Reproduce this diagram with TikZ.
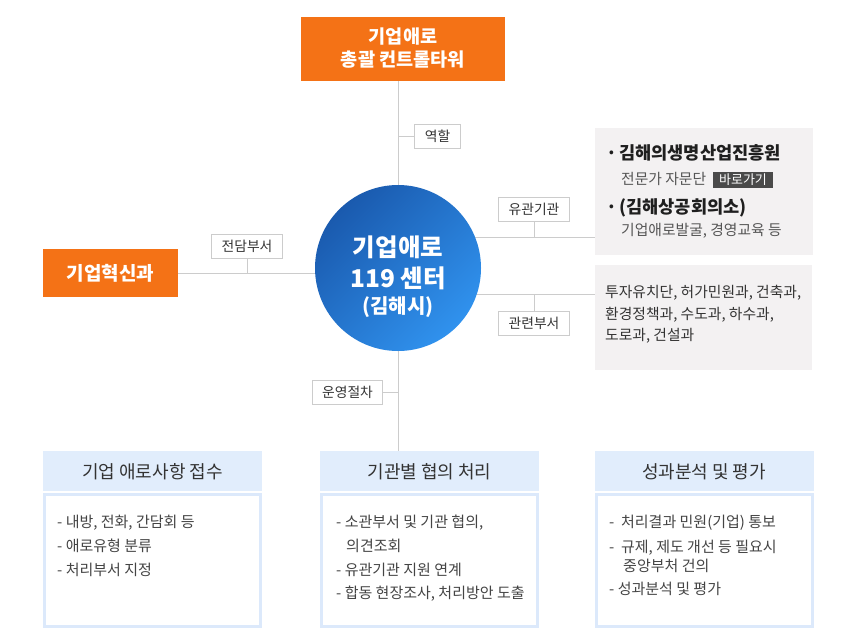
\documentclass[tikz,border=0pt]{standalone}
\usepackage{fontspec}
\setmainfont{Noto Sans CJK KR}
\usetikzlibrary{backgrounds}
\definecolor{orng}{HTML}{F47216}
\definecolor{bdark}{HTML}{1A5AAE}
\definecolor{blight}{HTML}{3092EE}
\definecolor{lnc}{HTML}{CCCCCC}
\definecolor{gbox}{HTML}{F3F1F2}
\definecolor{hblue}{HTML}{E1EDFC}
\definecolor{bblue}{HTML}{DCE9FB}
\definecolor{txd}{HTML}{333333}
\definecolor{txb}{HTML}{444444}
\definecolor{txg}{HTML}{555555}
\definecolor{btn}{HTML}{4A4A4A}
\tikzset{
  fs/.style={font=\fontsize{#1}{#1}\selectfont},
  fsb/.style={font=\fontsize{#1}{#1}\selectfont\bfseries},
  obox/.style={fill=orng, inner sep=0, outer sep=0, text=white, align=center},
  wtxt/.style={fsb=#1, text=white, inner sep=0, anchor=base},
  lbl/.style={draw=lnc, line width=1pt, fill=white, minimum height=24pt, inner ysep=0, inner xsep=10pt, fs=13.8, text=txd, outer sep=0},
  conn/.style={draw=lnc, line width=1pt},
  gray box/.style={fill=gbox, inner sep=0, outer sep=0},
  hdr/.style={fill=hblue, inner sep=0, outer sep=0, minimum width=219pt, minimum height=40pt},
  body/.style={fill=white, draw=bblue, line width=3pt, inner sep=0, outer sep=0, minimum width=216pt, minimum height=132pt},
  htxt/.style={fs=18, text=txd, inner sep=0, anchor=base},
  btxt/.style={fs=15, text=txb, inner sep=0, anchor=base west},
  dtxt/.style={fs=14.8, text=txd, inner sep=0, anchor=base west},
  gtxt/.style={fs=14.8, text=txg, inner sep=0, anchor=base west},
  ktxt/.style={fsb=17.6, text=black!88, inner sep=0, anchor=base west},
}
\begin{document}
\begin{tikzpicture}[x=1pt,y=-1pt]
\useasboundingbox (0,0) rectangle (850,643);
% top box
\node[obox, minimum width=204pt, minimum height=64pt] (tbox) at (403,49) {};
\node[wtxt=18.6] (t1) at (403,43.5) {기업애로};
\node[wtxt=18.6] (t2) at (403,66) {총괄 컨트롤타워};
% left box
\node[obox, minimum width=135pt, minimum height=48pt] (lbox) at (110.5,273) {};
\node[wtxt=19] (lt) at (110.5,280) {기업혁신과};
% circle
\node[circle, minimum size=166pt, inner sep=0, outer sep=0, top color=bdark, bottom color=blight, shading angle=45] (cc) at (398,268) {};
\node[wtxt=24.5] (c1) at (398,256.5) {기업애로};
\node[wtxt=24.5] (c2) at (398,287) {119 센터};
\node[wtxt=20] (c3) at (398,313.5) {(김해시)};
% labels
\node[lbl] (lrole) at (437.5,136.5) {역할};
\node[lbl] (ldep) at (247,246.5) {전담부서};
\node[lbl] (lrel) at (534,209.5) {유관기관};
\node[lbl] (lrd) at (534,323) {관련부서};
\node[lbl] (lop) at (347.5,392.5) {운영절차};
% gray boxes
\node[gray box, minimum width=218pt, minimum height=127pt] (g1) at (704,191.5) {};
\node[gray box, minimum width=217pt, minimum height=105pt] (g2) at (703.5,317.5) {};
\coordinate (r1) at (595,237);
\coordinate (r2) at (595,294);
\node[ktxt] (gb1) at (606,159.5) {·};
\node[ktxt] (gk1) at (619,159.5) {김해의생명산업진흥원};
\node[gtxt] (gs1) at (621,184.5) {전문가 자문단};
\node[fill=btn, text=white, fs=13, inner xsep=3pt, inner ysep=0, minimum height=16pt, minimum width=60pt] (go) at (743,180) {바로가기};
\node[ktxt] (gb2) at (606,213.5) {·};
\node[ktxt] (gk2) at (619,213.5) {(김해상공회의소)};
\node[gtxt] (gs2) at (621,235.5) {기업애로발굴, 경영교육 등};
\node[dtxt] (d1) at (605,297.5) {투자유치단, 허가민원과, 건축과,};
\node[dtxt] (d2) at (605,319) {환경정책과, 수도과, 하수과,};
\node[dtxt] (d3) at (605,340.5) {도로과, 건설과};
% bottom boxes
\node[hdr] (h1) at (152.5,471) {};
\node[hdr] (h2) at (429.5,471) {};
\node[hdr] (h3) at (704,471) {};
\node[htxt] (h1t) at (152.5,478) {기업 애로사항 접수};
\node[htxt] (h2t) at (429.5,478) {기관별 협의 처리};
\node[htxt] (h3t) at (704,478) {성과분석 및 평가};
\node[body] (b1) at (152.5,560.5) {};
\node[body] (b2) at (429.5,560.5) {};
\node[body] (b3) at (704,560.5) {};
\node[btxt] (b1a) at (57,527.5) {- 내방, 전화, 간담회 등};
\node[btxt] (b1b) at (57,551.5) {- 애로유형 분류};
\node[btxt] (b1c) at (57,575) {- 처리부서 지정};
\node[btxt] (b2a) at (336,527.5) {- 소관부서 및 기관 협의,};
\node[btxt] (b2b) at (346,551) {의견조회};
\node[btxt] (b2c) at (336,575) {- 유관기관 지원 연계};
\node[btxt] (b2d) at (336,598.5) {- 합동 현장조사, 처리방안 도출};
\node[btxt] (b3a) at (609,527.5) {-~~처리결과 민원(기업) 통보};
\node[btxt] (b3b) at (609,552) {-~~규제, 제도 개선 등 필요시};
\node[btxt] (b3c) at (623,571.5) {중앙부처 건의};
\node[btxt] (b3d) at (609,594) {- 성과분석 및 평가};
% connectors
\begin{pgfonlayer}{background}
\draw[conn] (tbox.south -| cc.north) -- (cc.north);
\draw[conn] (lrole.west) -- (lrole.west -| cc.north);
\draw[conn] (lbox.east) -- (lbox.east -| cc.center);
\draw[conn] (ldep.south) -- (ldep.south |- lbox.east);
\draw[conn] (r1) -- (r1 -| cc.center);
\draw[conn] (lrel.south) -- (lrel.south |- r1);
\draw[conn] (r2) -- (r2 -| cc.center);
\draw[conn] (lrd.north) -- (lrd.north |- r2);
\draw[conn] (cc.south) -- (cc.south |- h2.north);
\draw[conn] (lop.east) -- (lop.east -| cc.south);
\end{pgfonlayer}
\end{tikzpicture}
\end{document}
